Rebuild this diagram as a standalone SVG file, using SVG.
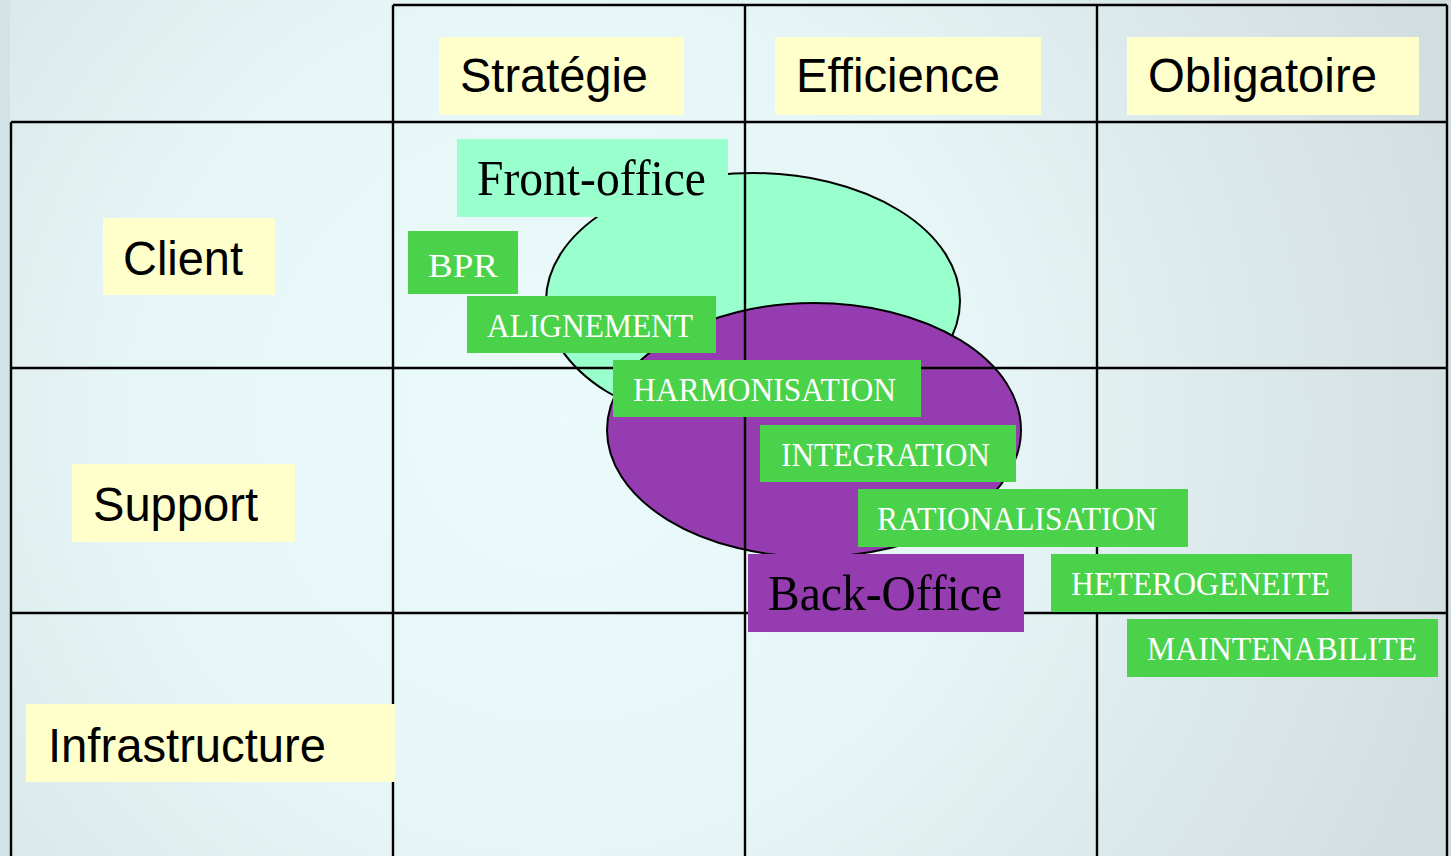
<svg xmlns="http://www.w3.org/2000/svg" width="1451" height="856" viewBox="0 0 1451 856">
<defs>
<radialGradient id="bg" cx="560" cy="420" r="950" gradientUnits="userSpaceOnUse">
<stop offset="0" stop-color="#ebfafa"/>
<stop offset="0.45" stop-color="#e6f5f5"/>
<stop offset="1" stop-color="#d2dde0"/>
</radialGradient>
<style>
.grid{stroke:#000;stroke-width:2.4;fill:none}
.ell{stroke:#000;stroke-width:2}
.ybox{fill:#ffffcc}
.gbox{fill:#4ad24a}
.hdr{font-family:"Liberation Sans",Arial,sans-serif;font-size:48px;fill:#000}
.big{font-family:"Liberation Serif","Times New Roman",serif;font-size:50px;fill:#000}
.tag{font-family:"Liberation Serif","Times New Roman",serif;font-size:33px;fill:#fff}
</style>
</defs>
<rect x="0" y="0" width="1451" height="856" fill="url(#bg)"/>
<rect x="0" y="0" width="10" height="856" fill="#d2e3e7"/>

<g id="ellipses">
<ellipse id="front-ellipse" class="ell" cx="753" cy="301" rx="207" ry="128" fill="#99ffcc"/>
<ellipse id="back-ellipse" class="ell" cx="814" cy="430" rx="207" ry="127" fill="#943cb0"/>
</g>

<g id="grid">
<line class="grid" x1="393" y1="5" x2="1447" y2="5"/>
<line class="grid" x1="11" y1="122" x2="1447" y2="122"/>
<line class="grid" x1="11" y1="368" x2="1447" y2="368"/>
<line class="grid" x1="11" y1="613" x2="1447" y2="613"/>
<line class="grid" x1="11" y1="122" x2="11" y2="856"/>
<line class="grid" x1="393" y1="5" x2="393" y2="856"/>
<line class="grid" x1="745" y1="5" x2="745" y2="856"/>
<line class="grid" x1="1097" y1="5" x2="1097" y2="856"/>
<line class="grid" x1="1447" y1="5" x2="1447" y2="856"/>
</g>

<g id="strategie">
<rect class="ybox" x="439" y="37" width="245" height="78"/>
<text class="hdr" x="460" y="92" textLength="188" lengthAdjust="spacingAndGlyphs">Stratégie</text>
</g>
<g id="efficience">
<rect class="ybox" x="775" y="37" width="266" height="78"/>
<text class="hdr" x="796" y="92" textLength="204" lengthAdjust="spacingAndGlyphs">Efficience</text>
</g>
<g id="obligatoire">
<rect class="ybox" x="1127" y="37" width="292" height="78"/>
<text class="hdr" x="1148" y="92" textLength="229" lengthAdjust="spacingAndGlyphs">Obligatoire</text>
</g>
<g id="client">
<rect class="ybox" x="103" y="218" width="172" height="77"/>
<text class="hdr" x="123" y="275" textLength="120" lengthAdjust="spacingAndGlyphs">Client</text>
</g>
<g id="support">
<rect class="ybox" x="72" y="464" width="223" height="78"/>
<text class="hdr" x="93" y="521" textLength="165" lengthAdjust="spacingAndGlyphs">Support</text>
</g>
<g id="infrastructure">
<rect class="ybox" x="26" y="704" width="369" height="78"/>
<text class="hdr" x="48" y="762" textLength="278" lengthAdjust="spacingAndGlyphs">Infrastructure</text>
</g>

<g id="front-office">
<rect x="457" y="139" width="271" height="78" fill="#99ffcc"/>
<text class="big" x="477" y="195" textLength="229" lengthAdjust="spacingAndGlyphs">Front-office</text>
</g>
<g id="back-office">
<rect x="748" y="554" width="276" height="78" fill="#943cb0"/>
<text class="big" x="768" y="610" textLength="234" lengthAdjust="spacingAndGlyphs">Back-Office</text>
</g>

<g id="bpr">
<rect class="gbox" x="408" y="231" width="110" height="63"/>
<text class="tag" x="428" y="277" textLength="70" lengthAdjust="spacingAndGlyphs">BPR</text>
</g>
<g id="alignement">
<rect class="gbox" x="467" y="296" width="249" height="57"/>
<text class="tag" x="487" y="337" textLength="206" lengthAdjust="spacingAndGlyphs">ALIGNEMENT</text>
</g>
<g id="harmonisation">
<rect class="gbox" x="613" y="360" width="308" height="57"/>
<text class="tag" x="633" y="401" textLength="263" lengthAdjust="spacingAndGlyphs">HARMONISATION</text>
</g>
<g id="integration">
<rect class="gbox" x="760" y="425" width="256" height="57"/>
<text class="tag" x="781" y="466" textLength="209" lengthAdjust="spacingAndGlyphs">INTEGRATION</text>
</g>
<g id="rationalisation">
<rect class="gbox" x="858" y="489" width="330" height="58"/>
<text class="tag" x="877" y="530" textLength="280" lengthAdjust="spacingAndGlyphs">RATIONALISATION</text>
</g>
<g id="heterogeneite">
<rect class="gbox" x="1051" y="554" width="301" height="58"/>
<text class="tag" x="1071" y="595" textLength="259" lengthAdjust="spacingAndGlyphs">HETEROGENEITE</text>
</g>
<g id="maintenabilite">
<rect class="gbox" x="1127" y="619" width="311" height="58"/>
<text class="tag" x="1147" y="660" textLength="270" lengthAdjust="spacingAndGlyphs">MAINTENABILITE</text>
</g>
</svg>
